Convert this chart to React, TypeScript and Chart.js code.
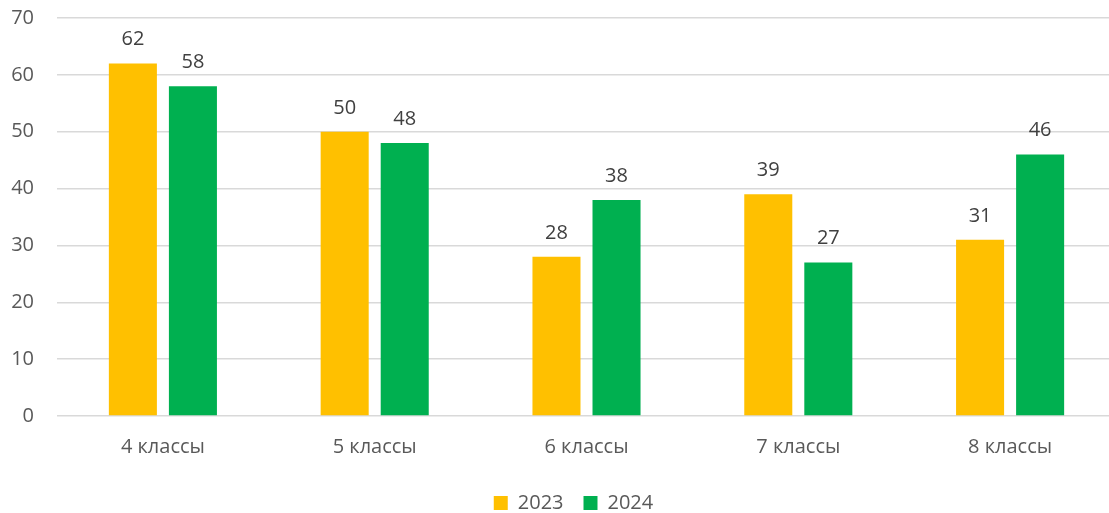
import React, { useEffect, useRef } from "react";
import { Chart, registerables } from "chart.js";

Chart.register(...registerables);

const categories = ["4 классы", "5 классы", "6 классы", "7 классы", "8 классы"];
const seriesNames = ["2023", "2024"];
const values2023 = [62, 50, 28, 39, 31];
const values2024 = [58, 48, 38, 27, 46];
const colors = ["#FFC000", "#00B050"];
const yTicksMax = 70;
const yTickStep = 10;

const TEXT = "#595959";
const FONT = "'Open Sans', sans-serif";

const dataLabels = {
  id: "dataLabels",
  afterDatasetsDraw(chart: any) {
    const ctx = chart.ctx;
    ctx.save();
    ctx.font = `20px ${FONT}`;
    ctx.fillStyle = "#404040";
    ctx.textAlign = "center";
    ctx.textBaseline = "alphabetic";
    chart.data.datasets.forEach((ds: any, i: number) => {
      const meta = chart.getDatasetMeta(i);
      meta.data.forEach((bar: any, j: number) => {
        ctx.fillText(String(ds.data[j]), bar.x, bar.y - 18);
      });
    });
    ctx.restore();
  },
};

export default function App() {
  const ref = useRef<HTMLCanvasElement | null>(null);
  useEffect(() => {
    if (!ref.current) return;
    const chart = new Chart(ref.current, {
      type: "bar",
      data: {
        labels: categories,
        datasets: [
          { label: seriesNames[0], data: values2023, backgroundColor: colors[0] },
          { label: seriesNames[1], data: values2024, backgroundColor: colors[1] },
        ],
      },
      options: {
        animation: false,
        responsive: true,
        maintainAspectRatio: false,
        layout: { padding: { top: 0, left: 0, right: 0, bottom: -10 } },
        datasets: { bar: { categoryPercentage: 0.567, barPercentage: 0.8 } },
        plugins: {
          tooltip: { enabled: false },
          legend: {
            position: "bottom",
            labels: {
              boxWidth: 14,
              boxHeight: 14,
              padding: 20,
              color: TEXT,
              font: { family: FONT, size: 20 },
            },
          },
        },
        scales: {
          x: {
            grid: { display: false, drawTicks: false },
            border: { display: false },
            ticks: { color: TEXT, font: { family: FONT, size: 20 }, padding: 19 },
            afterFit: (s: any) => { s.height = 57; },
          },
          y: {
            min: 0,
            max: yTicksMax,
            grid: { color: "#D9D9D9", lineWidth: 1.5, drawTicks: false },
            border: { display: false },
            ticks: { stepSize: yTickStep, color: TEXT, font: { family: FONT, size: 20 }, padding: 23 },
            afterFit: (s: any) => { s.width = 57; },
          },
          yRight: {
            position: "right",
            min: 0,
            max: yTicksMax,
            grid: { display: false, drawTicks: false },
            border: { display: false },
            ticks: { display: false },
            afterFit: (s: any) => { s.width = 31; },
          },
        },
      },
      plugins: [dataLabels],
    });
    return () => chart.destroy();
  }, []);
  return (
    <div style={{ position: "fixed", left: 0, top: 0, width: 1109, height: 513, overflow: "hidden", background: "#fff" }}>
      <div style={{ position: "absolute", left: 0, top: -17, width: 1147, height: 530 }}>
        <canvas ref={ref} />
      </div>
    </div>
  );
}
